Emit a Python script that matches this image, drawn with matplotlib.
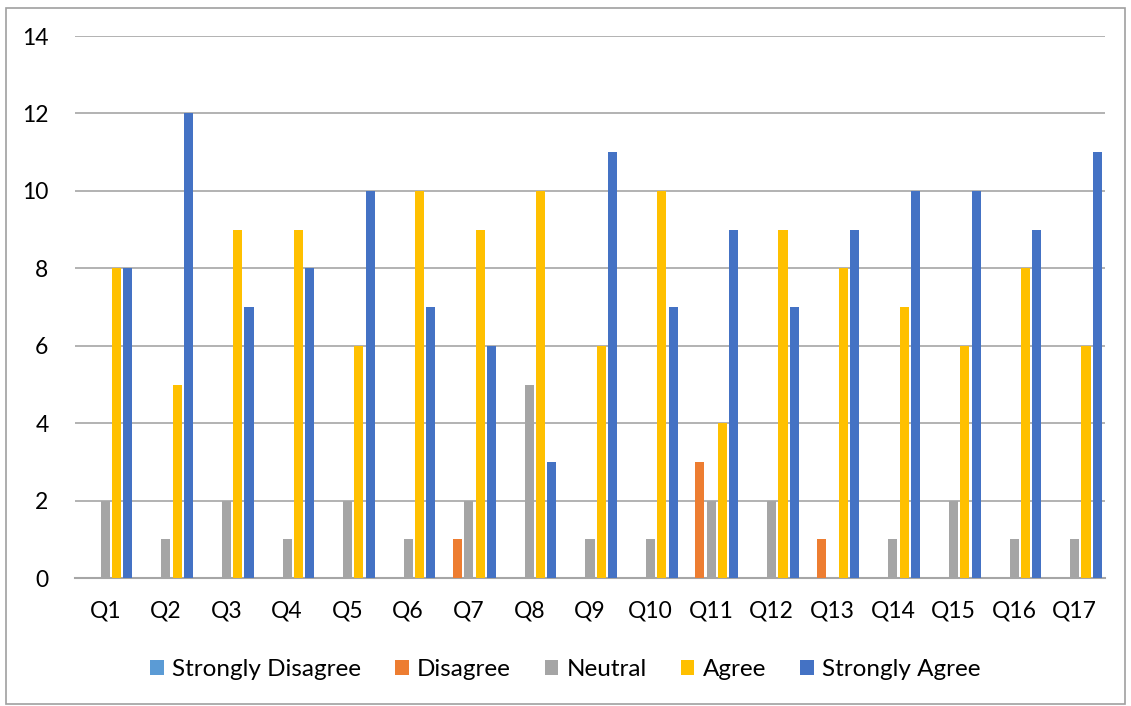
import numpy as np
import matplotlib
matplotlib.use("Agg")
import matplotlib.pyplot as plt
from matplotlib.patches import Rectangle

plt.rcParams['font.family'] = ['Lato', 'DejaVu Sans']

questions = ['Q%d' % i for i in range(1, 18)]
strongly_disagree = [0, 0, 0, 0, 0, 0, 0, 0, 0, 0, 0, 0, 0, 0, 0, 0, 0]
disagree = [0, 0, 0, 0, 0, 0, 1, 0, 0, 0, 3, 0, 1, 0, 0, 0, 0]
neutral = [2, 1, 2, 1, 2, 1, 2, 5, 1, 1, 2, 2, 0, 1, 2, 1, 1]
agree = [8, 5, 9, 9, 6, 10, 9, 10, 6, 10, 4, 9, 8, 7, 6, 8, 6]
strongly_agree = [8, 12, 7, 8, 10, 7, 6, 3, 11, 7, 9, 7, 9, 10, 10, 9, 11]

series = [('Strongly Disagree', strongly_disagree, '#5B9BD5'),
          ('Disagree', disagree, '#ED7D31'),
          ('Neutral', neutral, '#A5A5A5'),
          ('Agree', agree, '#FFC000'),
          ('Strongly Agree', strongly_agree, '#4472C4')]

fig = plt.figure(figsize=(11.31, 7.06), dpi=100)
ax = fig.add_axes([0.0663, 0.181, 0.9107, 0.768])

x = np.arange(len(questions))
step = 0.186
width = 0.15
for i, (name, vals, col) in enumerate(series):
    ax.bar(x + (i - 2) * step, vals, width, color=col, label=name, zorder=3)

ax.set_xlim(-0.5, len(questions) - 0.5)
ax.set_ylim(0, 14)
ax.set_yticks(range(0, 15, 2))
ax.set_xticks(x)
ax.set_xticklabels(questions)
ax.tick_params(axis='both', length=0, labelsize=16.5, colors='black')
ax.tick_params(axis='x', pad=16)
ax.tick_params(axis='y', pad=19)
ax.grid(axis='y', color='#a6a6a6', linewidth=1.2, zorder=0)
for s in ['top', 'right', 'left']:
    ax.spines[s].set_visible(False)
ax.spines['bottom'].set_color('#a6a6a6')
ax.spines['bottom'].set_linewidth(1.5)

fig.legend(loc='center', bbox_to_anchor=(0.5, 0.052), ncol=5, frameon=False,
           fontsize=17.5, handlelength=0.55, handleheight=0.55, handletextpad=0.35,
           columnspacing=1.4)

fig.patches.append(Rectangle((0.005, 0.003), 0.99, 0.986, transform=fig.transFigure,
                             fill=False, edgecolor='#a0a0a0', linewidth=1.2))

fig.savefig('out.png', dpi=100)
